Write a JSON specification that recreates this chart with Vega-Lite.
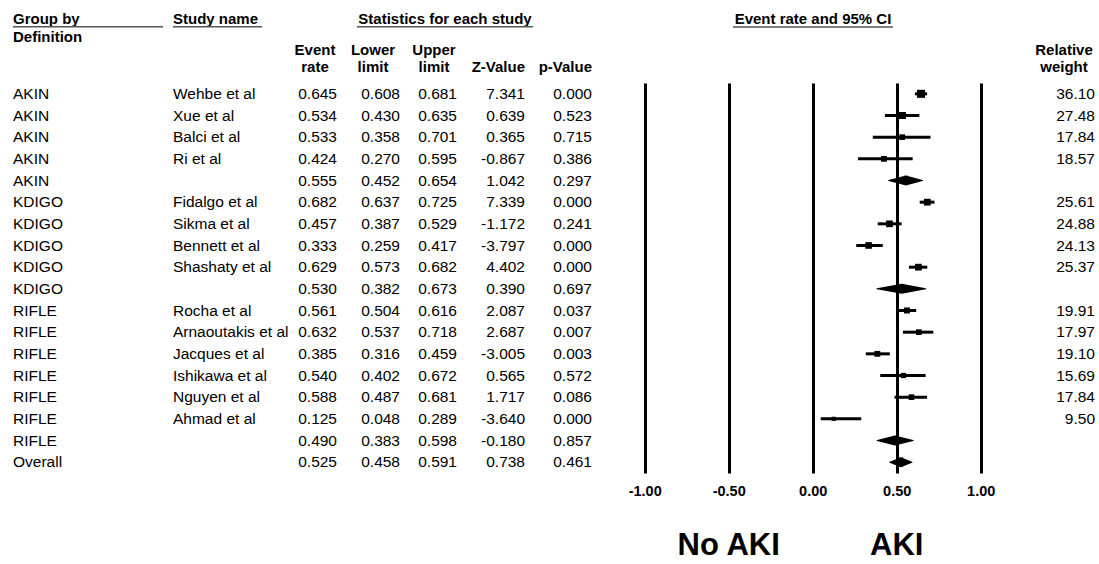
{
  "$schema": "https://vega.github.io/schema/vega-lite/v6.json",
  "width": 1099,
  "height": 390,
  "autosize": {"type": "none"},
  "padding": {"top": 83, "bottom": 91, "left": 0, "right": 0},
  "background": "white",
  "config": {
    "view": {"stroke": null},
    "font": "Liberation Sans",
    "locale": {"number": {"decimal": ".", "thousands": ",", "grouping": [3], "currency": ["$", ""], "minus": "-"}},
    "text": {"font": "Liberation Sans", "fontSize": 15.5, "color": "black"},
    "axisX": {"grid": true, "gridColor": "black", "gridWidth": 3, "gridOpacity": 1, "domain": false, "ticks": false, "tickSize": 0,
              "labelFont": "Liberation Sans", "labelFontWeight": "bold", "labelFontSize": 14.5, "labelColor": "black", "labelPadding": 11,
              "labelFlush": false, "labelOverlap": false, "title": null}
  },
  "datasets": {
    "studies": [
      {"id": "AKIN Wehbe", "group": "AKIN", "study": "Wehbe et al", "type": "study", "rate": 0.645, "lower": 0.608, "upper": 0.681, "z": 7.341, "p": 0.000, "weight": 36.10},
      {"id": "AKIN Xue", "group": "AKIN", "study": "Xue et al", "type": "study", "rate": 0.534, "lower": 0.430, "upper": 0.635, "z": 0.639, "p": 0.523, "weight": 27.48},
      {"id": "AKIN Balci", "group": "AKIN", "study": "Balci et al", "type": "study", "rate": 0.533, "lower": 0.358, "upper": 0.701, "z": 0.365, "p": 0.715, "weight": 17.84},
      {"id": "AKIN Ri", "group": "AKIN", "study": "Ri et al", "type": "study", "rate": 0.424, "lower": 0.270, "upper": 0.595, "z": -0.867, "p": 0.386, "weight": 18.57},
      {"id": "AKIN pooled", "group": "AKIN", "study": "", "type": "subgroup", "rate": 0.555, "lower": 0.452, "upper": 0.654, "z": 1.042, "p": 0.297, "weight": null},
      {"id": "KDIGO Fidalgo", "group": "KDIGO", "study": "Fidalgo et al", "type": "study", "rate": 0.682, "lower": 0.637, "upper": 0.725, "z": 7.339, "p": 0.000, "weight": 25.61},
      {"id": "KDIGO Sikma", "group": "KDIGO", "study": "Sikma et al", "type": "study", "rate": 0.457, "lower": 0.387, "upper": 0.529, "z": -1.172, "p": 0.241, "weight": 24.88},
      {"id": "KDIGO Bennett", "group": "KDIGO", "study": "Bennett et al", "type": "study", "rate": 0.333, "lower": 0.259, "upper": 0.417, "z": -3.797, "p": 0.000, "weight": 24.13},
      {"id": "KDIGO Shashaty", "group": "KDIGO", "study": "Shashaty et al", "type": "study", "rate": 0.629, "lower": 0.573, "upper": 0.682, "z": 4.402, "p": 0.000, "weight": 25.37},
      {"id": "KDIGO pooled", "group": "KDIGO", "study": "", "type": "subgroup", "rate": 0.530, "lower": 0.382, "upper": 0.673, "z": 0.390, "p": 0.697, "weight": null},
      {"id": "RIFLE Rocha", "group": "RIFLE", "study": "Rocha et al", "type": "study", "rate": 0.561, "lower": 0.504, "upper": 0.616, "z": 2.087, "p": 0.037, "weight": 19.91},
      {"id": "RIFLE Arnaoutakis", "group": "RIFLE", "study": "Arnaoutakis et al", "type": "study", "rate": 0.632, "lower": 0.537, "upper": 0.718, "z": 2.687, "p": 0.007, "weight": 17.97},
      {"id": "RIFLE Jacques", "group": "RIFLE", "study": "Jacques et al", "type": "study", "rate": 0.385, "lower": 0.316, "upper": 0.459, "z": -3.005, "p": 0.003, "weight": 19.10},
      {"id": "RIFLE Ishikawa", "group": "RIFLE", "study": "Ishikawa et al", "type": "study", "rate": 0.540, "lower": 0.402, "upper": 0.672, "z": 0.565, "p": 0.572, "weight": 15.69},
      {"id": "RIFLE Nguyen", "group": "RIFLE", "study": "Nguyen et al", "type": "study", "rate": 0.588, "lower": 0.487, "upper": 0.681, "z": 1.717, "p": 0.086, "weight": 17.84},
      {"id": "RIFLE Ahmad", "group": "RIFLE", "study": "Ahmad et al", "type": "study", "rate": 0.125, "lower": 0.048, "upper": 0.289, "z": -3.640, "p": 0.000, "weight": 9.50},
      {"id": "RIFLE pooled", "group": "RIFLE", "study": "", "type": "subgroup", "rate": 0.490, "lower": 0.383, "upper": 0.598, "z": -0.180, "p": 0.857, "weight": null},
      {"id": "Overall", "group": "Overall", "study": "", "type": "overall", "rate": 0.525, "lower": 0.458, "upper": 0.591, "z": 0.738, "p": 0.461, "weight": null}
    ]
  },
  "layer": [
    {
      "data": {"name": "studies"},
      "transform": [{"filter": "datum.type === 'study'"}],
      "mark": {"type": "rule", "strokeWidth": 3, "color": "black"},
      "encoding": {
        "y": {"field": "id", "type": "nominal", "sort": null, "axis": null,
              "scale": {"type": "point", "padding": 0.5, "domain": ["AKIN Wehbe","AKIN Xue","AKIN Balci","AKIN Ri","AKIN pooled","KDIGO Fidalgo","KDIGO Sikma","KDIGO Bennett","KDIGO Shashaty","KDIGO pooled","RIFLE Rocha","RIFLE Arnaoutakis","RIFLE Jacques","RIFLE Ishikawa","RIFLE Nguyen","RIFLE Ahmad","RIFLE pooled","Overall"]}},
        "x": {"field": "lower", "type": "quantitative",
              "scale": {"domain": [-4.8375, 1.7042], "nice": false, "zero": false},
              "axis": {"values": [-1, -0.5, 0, 0.5, 1], "format": ".2f", "title": null}},
        "x2": {"field": "upper"}
      }
    },
    {
      "data": {"name": "studies"},
      "transform": [{"filter": "datum.type === 'study'"}],
      "mark": {"type": "point", "shape": "square", "filled": true, "color": "black", "opacity": 1},
      "encoding": {
        "y": {"field": "id", "type": "nominal", "sort": null, "axis": null},
        "x": {"field": "rate", "type": "quantitative", "scale": {"domain": [-4.8375, 1.7042], "nice": false, "zero": false},
              "axis": {"values": [-1, -0.5, 0, 0.5, 1], "format": ".2f", "title": null}},
        "size": {"field": "weight", "type": "quantitative", "scale": {"domain": [0, 40], "range": [0, 72]}, "legend": null}
      }
    },
    {
      "data": {"name": "studies"},
      "transform": [{"filter": "datum.type !== 'study'"}, {"fold": ["lower", "rate", "upper"], "as": ["k", "v"]}],
      "mark": {"type": "trail", "color": "black"},
      "encoding": {
        "y": {"field": "id", "type": "nominal", "sort": null, "axis": null},
        "x": {"field": "v", "type": "quantitative", "scale": {"domain": [-4.8375, 1.7042], "nice": false, "zero": false},
              "axis": {"values": [-1, -0.5, 0, 0.5, 1], "format": ".2f", "title": null}},
        "detail": {"field": "id"},
        "size": {"condition": {"test": "datum.k === 'rate'", "value": 10}, "value": 0}
      }
    },
    {
      "data": {"name": "studies"},
      "mark": {"type": "text", "align": "left", "baseline": "middle"},
      "encoding": {"y": {"field": "id", "type": "nominal", "sort": null, "axis": null}, "x": {"value": 13}, "text": {"field": "group"}}
    },
    {
      "data": {"name": "studies"},
      "mark": {"type": "text", "align": "left", "baseline": "middle"},
      "encoding": {"y": {"field": "id", "type": "nominal", "sort": null, "axis": null}, "x": {"value": 173}, "text": {"field": "study"}}
    },
    {
      "data": {"name": "studies"},
      "mark": {"type": "text", "align": "right", "baseline": "middle"},
      "encoding": {"y": {"field": "id", "type": "nominal", "sort": null, "axis": null}, "x": {"value": 337}, "text": {"field": "rate", "type": "quantitative", "format": ".3f"}}
    },
    {
      "data": {"name": "studies"},
      "mark": {"type": "text", "align": "right", "baseline": "middle"},
      "encoding": {"y": {"field": "id", "type": "nominal", "sort": null, "axis": null}, "x": {"value": 400}, "text": {"field": "lower", "type": "quantitative", "format": ".3f"}}
    },
    {
      "data": {"name": "studies"},
      "mark": {"type": "text", "align": "right", "baseline": "middle"},
      "encoding": {"y": {"field": "id", "type": "nominal", "sort": null, "axis": null}, "x": {"value": 457}, "text": {"field": "upper", "type": "quantitative", "format": ".3f"}}
    },
    {
      "data": {"name": "studies"},
      "mark": {"type": "text", "align": "right", "baseline": "middle"},
      "encoding": {"y": {"field": "id", "type": "nominal", "sort": null, "axis": null}, "x": {"value": 525}, "text": {"field": "z", "type": "quantitative", "format": ".3f"}}
    },
    {
      "data": {"name": "studies"},
      "mark": {"type": "text", "align": "right", "baseline": "middle"},
      "encoding": {"y": {"field": "id", "type": "nominal", "sort": null, "axis": null}, "x": {"value": 592}, "text": {"field": "p", "type": "quantitative", "format": ".3f"}}
    },
    {
      "data": {"name": "studies"},
      "transform": [{"filter": "isValid(datum.weight)"}],
      "mark": {"type": "text", "align": "right", "baseline": "middle"},
      "encoding": {"y": {"field": "id", "type": "nominal", "sort": null, "axis": null}, "x": {"value": 1095}, "text": {"field": "weight", "type": "quantitative", "format": ".2f"}}
    },
    {
      "data": {"values": [{}]},
      "mark": {"type": "text", "text": "Group by", "align": "left", "baseline": "alphabetic", "fontWeight": "bold", "fontSize": 15},
      "encoding": {"x": {"value": 13}, "y": {"value": -59}}
    },
    {
      "data": {"values": [{}]},
      "mark": {"type": "text", "text": "Definition", "align": "left", "baseline": "alphabetic", "fontWeight": "bold", "fontSize": 15},
      "encoding": {"x": {"value": 13}, "y": {"value": -41.5}}
    },
    {
      "data": {"values": [{}]},
      "mark": {"type": "text", "text": "Study name", "align": "left", "baseline": "alphabetic", "fontWeight": "bold", "fontSize": 15},
      "encoding": {"x": {"value": 173}, "y": {"value": -59}}
    },
    {
      "data": {"values": [{}]},
      "mark": {"type": "text", "text": "Statistics for each study", "align": "center", "baseline": "alphabetic", "fontWeight": "bold", "fontSize": 15},
      "encoding": {"x": {"value": 445}, "y": {"value": -59}}
    },
    {
      "data": {"values": [{}]},
      "mark": {"type": "text", "text": "Event rate and 95% CI", "align": "center", "baseline": "alphabetic", "fontWeight": "bold", "fontSize": 15},
      "encoding": {"x": {"value": 813}, "y": {"value": -59}}
    },
    {
      "data": {"values": [{}]},
      "mark": {"type": "text", "text": ["Event", "rate"], "lineHeight": 16.5, "align": "center", "baseline": "alphabetic", "fontWeight": "bold", "fontSize": 15},
      "encoding": {"x": {"value": 315}, "y": {"value": -28}}
    },
    {
      "data": {"values": [{}]},
      "mark": {"type": "text", "text": ["Lower", "limit"], "lineHeight": 16.5, "align": "center", "baseline": "alphabetic", "fontWeight": "bold", "fontSize": 15},
      "encoding": {"x": {"value": 373}, "y": {"value": -28}}
    },
    {
      "data": {"values": [{}]},
      "mark": {"type": "text", "text": ["Upper", "limit"], "lineHeight": 16.5, "align": "center", "baseline": "alphabetic", "fontWeight": "bold", "fontSize": 15},
      "encoding": {"x": {"value": 434}, "y": {"value": -28}}
    },
    {
      "data": {"values": [{}]},
      "mark": {"type": "text", "text": "Z-Value", "align": "right", "baseline": "alphabetic", "fontWeight": "bold", "fontSize": 15},
      "encoding": {"x": {"value": 525}, "y": {"value": -11.5}}
    },
    {
      "data": {"values": [{}]},
      "mark": {"type": "text", "text": "p-Value", "align": "right", "baseline": "alphabetic", "fontWeight": "bold", "fontSize": 15},
      "encoding": {"x": {"value": 592}, "y": {"value": -11.5}}
    },
    {
      "data": {"values": [{}]},
      "mark": {"type": "text", "text": ["Relative", "weight"], "lineHeight": 16.5, "align": "center", "baseline": "alphabetic", "fontWeight": "bold", "fontSize": 15},
      "encoding": {"x": {"value": 1064}, "y": {"value": -28}}
    },
    {
      "data": {"values": [{}]},
      "mark": {"type": "rule", "strokeWidth": 1.5, "color": "#555"},
      "encoding": {"x": {"value": 13}, "x2": {"value": 163}, "y": {"value": -56.3}}
    },
    {
      "data": {"values": [{}]},
      "mark": {"type": "rule", "strokeWidth": 1.5, "color": "#555"},
      "encoding": {"x": {"value": 173}, "x2": {"value": 262}, "y": {"value": -56.3}}
    },
    {
      "data": {"values": [{}]},
      "mark": {"type": "rule", "strokeWidth": 1.5, "color": "#555"},
      "encoding": {"x": {"value": 357}, "x2": {"value": 533}, "y": {"value": -56.3}}
    },
    {
      "data": {"values": [{}]},
      "mark": {"type": "rule", "strokeWidth": 1.5, "color": "#555"},
      "encoding": {"x": {"value": 733}, "x2": {"value": 893}, "y": {"value": -56}}
    },
    {
      "data": {"values": [{}]},
      "mark": {"type": "text", "text": "No AKI", "align": "center", "baseline": "alphabetic", "fontWeight": "bold", "fontSize": 31},
      "encoding": {"x": {"datum": -0.5, "type": "quantitative", "scale": {"domain": [-4.8375, 1.7042], "nice": false, "zero": false},
                         "axis": {"values": [-1, -0.5, 0, 0.5, 1], "format": ".2f", "title": null}}, "y": {"value": 472}}
    },
    {
      "data": {"values": [{}]},
      "mark": {"type": "text", "text": "AKI", "align": "center", "baseline": "alphabetic", "fontWeight": "bold", "fontSize": 31},
      "encoding": {"x": {"datum": 0.5, "type": "quantitative", "scale": {"domain": [-4.8375, 1.7042], "nice": false, "zero": false},
                         "axis": {"values": [-1, -0.5, 0, 0.5, 1], "format": ".2f", "title": null}}, "y": {"value": 472}}
    }
  ]
}
